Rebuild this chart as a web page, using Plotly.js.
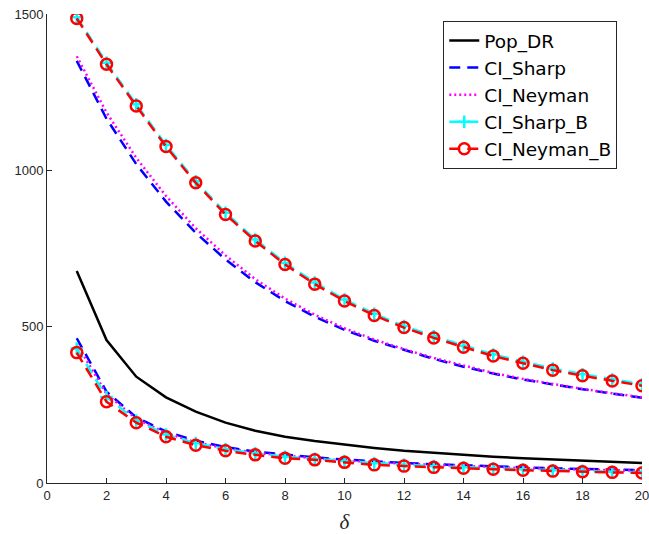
<!DOCTYPE html>
<html>
<head>
<meta charset="utf-8">
<script src="https://cdn.plot.ly/plotly-3.0.1.min.js"></script>
<style>html,body{margin:0;padding:0;background:#fff;}#chart{width:649px;height:534px;}</style>
</head>
<body>
<div id="chart"></div>
<script>
const delta = [1,2,3,4,5,6,7,8,9,10,11,12,13,14,15,16,17,18,19,20];
const popDR = [678,457,340,274,228,193,167,148,134,122,112,103,96,90,84,79,75,71,67,64];
const sharpUpper = [1350,1165,1020,900,800,715,642,582,532,490,455,425,397,372,350,331,315,300,286,273];
const sharpLower = [463,292,210,165,135,115,100,90,82,75,69,64,60,56,53,50,47,45,43,41];
const neymanUpper = [1365,1185,1040,918,815,728,652,590,538,495,459,428,400,375,352,333,316,301,287,274];
const neymanLower = [445,285,205,160,130,111,97,87,79,72,66,62,58,54,51,48,45,43,41,39];
const sharpBUpper = [1490,1344,1211,1081,965,864,779,704,641,587,541,502,469,439,411,388,366,348,331,316];
const sharpBLower = [430,275,200,155,127,108,95,84,77,70,63,58,54,50,47,44,41,39,36,34];
const neymanBUpper = [1486,1339,1206,1076,960,859,774,699,636,582,536,497,464,434,406,383,361,343,326,311];
const neymanBLower = [417,260,193,148,121,103,90,79,74,66,58,54,50,47,44,41,38,36,34,32];
const seriesNames = ['Pop_DR','CI_Sharp','CI_Neyman','CI_Sharp_B','CI_Neyman_B'];

function band(up, lo) { return { x: delta.concat([null], delta), y: up.concat([null], lo) }; }

const traces = [
  { x: delta, y: popDR, name: seriesNames[0], mode: 'lines',
    line: { color: '#000000', width: 2.5 } },
  Object.assign(band(sharpUpper, sharpLower), { name: seriesNames[1], mode: 'lines',
    line: { color: '#0000ff', width: 2.5, dash: '11px,7px' }, connectgaps: false }),
  Object.assign(band(neymanUpper, neymanLower), { name: seriesNames[2], mode: 'lines',
    line: { color: '#ff00ff', width: 2.5, dash: '2px,3px' }, connectgaps: false }),
  Object.assign(band(sharpBUpper, sharpBLower), { name: seriesNames[3], mode: 'lines+markers',
    line: { color: '#00ffff', width: 2.5, dash: '11px,7px' },
    marker: { symbol: 'cross-thin-open', size: 9, color: '#00ffff', line: { color: '#00ffff', width: 2.5 } }, connectgaps: false }),
  Object.assign(band(neymanBUpper, neymanBLower), { name: seriesNames[4], mode: 'lines+markers',
    line: { color: '#ff0000', width: 2.5, dash: '11px,7px' },
    marker: { symbol: 'circle-open', size: 11, color: '#ff0000', line: { color: '#ff0000', width: 2.5 } }, connectgaps: false })
];

const axisCommon = {
  showgrid: false, zeroline: false, showline: true, linecolor: '#262626', linewidth: 1,
  ticks: 'inside', ticklen: 5, tickcolor: '#262626', tickwidth: 1,
  ticklabeloverflow: 'allow',
  tickfont: { family: 'Liberation Sans, Arial, sans-serif', size: 13, color: '#262626' }
};

const layout = {
  width: 649, height: 534,
  margin: { l: 47, r: 7, t: 14, b: 51 },
  paper_bgcolor: '#ffffff', plot_bgcolor: '#ffffff',
  showlegend: true,
  xaxis: Object.assign({}, axisCommon, {
    range: [0, 20], tickvals: [0,2,4,6,8,10,12,14,16,18,20],
    title: { text: '<i>δ</i>', font: { family: 'Liberation Serif, Times New Roman, serif', size: 21, color: '#262626' }, standoff: 14 }
  }),
  yaxis: Object.assign({}, axisCommon, {
    range: [0, 1500], tickvals: [0,500,1000,1500]
  }),
  legend: {
    x: 0.666, y: 0.985, xanchor: 'left', yanchor: 'top',
    bgcolor: '#ffffff', bordercolor: '#262626', borderwidth: 1,
    font: { family: 'DejaVu Sans, sans-serif', size: 18.5, color: '#000000' },
    tracegroupgap: 0, itemwidth: 30
  }
};

Plotly.newPlot('chart', traces, layout, { displayModeBar: false, staticPlot: true });
</script>
</body>
</html>
